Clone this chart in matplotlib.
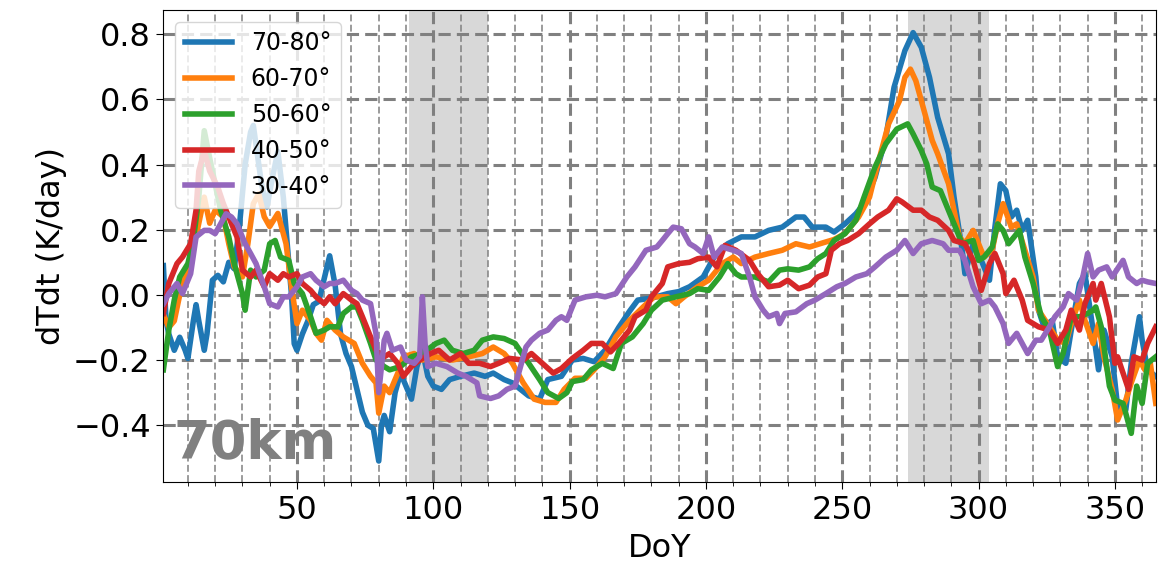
import numpy as np
import matplotlib
matplotlib.use("Agg")
import matplotlib.pyplot as plt
from matplotlib.ticker import MultipleLocator

# DoY / dTdt (K/day) at 70 km
doy_7080 = [1, 2, 3, 5, 7, 9, 10, 12, 13, 14, 16, 17, 19, 21, 23, 25, 27, 29, 31, 33, 34, 35, 37, 39, 41, 43,
            45, 47, 48, 49, 50, 52, 54, 56, 58, 60, 62, 64, 66, 68, 70, 72, 74, 76, 78, 80, 81, 82, 84, 86, 88,
            90, 92, 94, 96, 98, 100, 103, 106, 110, 115, 119, 122, 126, 129, 132, 135, 139, 142, 147, 151, 155,
            159, 163, 168, 172, 175, 180, 186, 190, 194, 199, 203, 208, 213, 218, 223, 228, 233, 236, 239, 244,
            247, 251, 255, 258, 262, 266, 269, 273, 276, 279, 282, 285, 289, 291, 294, 295, 298, 301, 304, 306,
            308, 310, 312, 314, 316, 318, 321, 322, 324, 327, 329, 332, 334, 337, 339, 342, 344, 346, 349, 351,
            354, 356, 359, 360, 362, 365]
val_7080 = [0.09, -0.08, -0.12, -0.17, -0.13, -0.17, -0.195, -0.08, -0.03, -0.08, -0.17, -0.12, 0.045, 0.06,
            0.04, 0.10, 0.08, 0.22, 0.40, 0.50, 0.52, 0.46, 0.34, 0.27, 0.36, 0.44, 0.30, 0.10, 0.0, -0.15, -0.17,
            -0.12, -0.08, -0.03, -0.02, 0.05, 0.12, 0.03, -0.12, -0.18, -0.22, -0.29, -0.36, -0.40, -0.41, -0.51,
            -0.40, -0.37, -0.42, -0.30, -0.24, -0.28, -0.32, -0.22, -0.17, -0.25, -0.28, -0.29, -0.26, -0.25,
            -0.24, -0.25, -0.24, -0.26, -0.27, -0.29, -0.31, -0.32, -0.26, -0.25, -0.20, -0.195, -0.205, -0.17,
            -0.10, -0.05, -0.016, -0.01, 0.004, 0.01, 0.025, 0.055, 0.116, 0.157, 0.178, 0.178, 0.198, 0.208,
            0.239, 0.239, 0.208, 0.208, 0.193, 0.218, 0.249, 0.28, 0.36, 0.484, 0.637, 0.75, 0.805, 0.76, 0.668,
            0.545, 0.433, 0.30, 0.137, 0.065, 0.157, 0.106, 0.045, 0.208, 0.341, 0.32, 0.239, 0.26, 0.198, 0.229,
            0.055, -0.047, -0.098, -0.078, -0.19, -0.21, -0.108, 0.035, 0.065, -0.108, -0.23, -0.108, -0.19,
            -0.343, -0.353, -0.21, -0.067, -0.139, -0.23, -0.25]

doy_6070 = [1, 3, 5, 7, 9, 11, 13, 15, 16, 18, 20, 23, 25, 27, 30, 32, 34, 36, 38, 40, 43, 46, 48, 50, 52, 55,
            57, 59, 61, 64, 67, 71, 74, 77, 79, 80, 82, 84, 87, 89, 93, 96, 101, 107, 113, 118, 122, 126, 129,
            133, 137, 141, 145, 148, 152, 156, 159, 163, 167, 172, 177, 181, 186, 189, 192, 197, 201, 206, 210,
            213, 218, 223, 228, 233, 238, 243, 247, 251, 256, 260, 263, 267, 271, 273, 275, 277, 280, 283, 285,
            289, 293, 295, 298, 300, 302, 305, 307, 309, 312, 314, 317, 320, 322, 326, 329, 332, 334, 337, 339,
            342, 344, 346, 349, 351, 354, 356, 359, 361, 363, 365]
val_6070 = [-0.06, -0.10, -0.08, 0.0, 0.06, 0.12, 0.18, 0.26, 0.30, 0.22, 0.26, 0.24, 0.157, 0.086, 0.055,
            0.157, 0.28, 0.31, 0.24, 0.21, 0.25, 0.157, 0.025, -0.088, -0.047, -0.078, -0.118, -0.139, -0.078,
            -0.108, -0.129, -0.149, -0.21, -0.25, -0.27, -0.363, -0.28, -0.30, -0.24, -0.19, -0.18, -0.20, -0.19,
            -0.20, -0.19, -0.18, -0.16, -0.18, -0.21, -0.27, -0.32, -0.33, -0.33, -0.29, -0.256, -0.256, -0.23,
            -0.19, -0.129, -0.078, -0.037, -0.006, -0.006, -0.027, -0.006, 0.025, 0.045, 0.096, 0.116, 0.096,
            0.116, 0.127, 0.137, 0.157, 0.147, 0.16, 0.17, 0.188, 0.239, 0.30, 0.40, 0.525, 0.596, 0.668, 0.693,
            0.657, 0.566, 0.474, 0.433, 0.341, 0.178, 0.157, 0.198, 0.157, 0.116, 0.137, 0.218, 0.28, 0.208,
            0.218, 0.137, 0.055, -0.047, -0.098, -0.139, -0.149, -0.088, -0.016, -0.078, -0.149, -0.088, -0.19,
            -0.29, -0.384, -0.323, -0.27, -0.20, -0.23, -0.21, -0.333]

doy_5060 = [1, 3, 5, 7, 10, 12, 14, 16, 18, 21, 22, 25, 27, 30, 31, 33, 35, 38, 40, 42, 44, 47, 49, 52, 55, 57,
            60, 62, 65, 67, 70, 72, 74, 77, 79, 82, 84, 88, 92, 96, 101, 104, 107, 111, 115, 118, 122, 126, 130,
            135, 139, 142, 146, 149, 151, 155, 158, 162, 166, 169, 173, 177, 180, 184, 189, 194, 197, 201, 205,
            208, 211, 213, 218, 223, 227, 230, 234, 238, 241, 244, 247, 251, 255, 258, 262, 266, 270, 274, 276,
            279, 281, 283, 286, 289, 292, 294, 298, 300, 302, 305, 307, 309, 311, 315, 317, 320, 323, 326, 329,
            331, 334, 337, 340, 342, 343, 345, 348, 350, 353, 356, 358, 360, 362, 365]
val_5060 = [-0.23, -0.108, -0.016, 0.055, 0.096, 0.167, 0.30, 0.504, 0.42, 0.30, 0.26, 0.178, 0.096, 0.004,
            -0.047, 0.076, 0.055, 0.076, 0.157, 0.167, 0.116, 0.106, 0.035, 0.004, -0.067, -0.118, -0.108,
            -0.098, -0.098, -0.057, -0.037, -0.037, -0.078, -0.149, -0.20, -0.22, -0.23, -0.22, -0.19, -0.18,
            -0.149, -0.139, -0.17, -0.18, -0.17, -0.139, -0.129, -0.134, -0.149, -0.21, -0.26, -0.30, -0.318,
            -0.30, -0.266, -0.26, -0.23, -0.21, -0.226, -0.149, -0.129, -0.088, -0.047, -0.016, -0.006, 0.004,
            0.019, 0.014, 0.055, 0.096, 0.065, 0.055, 0.055, 0.04, 0.076, 0.08, 0.076, 0.086, 0.111, 0.127,
            0.167, 0.188, 0.229, 0.30, 0.392, 0.464, 0.509, 0.525, 0.494, 0.443, 0.402, 0.331, 0.32, 0.259,
            0.198, 0.157, 0.167, 0.106, 0.116, 0.147, 0.218, 0.198, 0.157, 0.198, 0.116, 0.035, -0.067, -0.108,
            -0.22, -0.18, -0.067, -0.067, -0.057, -0.047, -0.037, -0.098, -0.28, -0.323, -0.333, -0.425, -0.28,
            -0.333, -0.21, -0.19]

doy_4050 = [1, 3, 6, 8, 11, 13, 14, 16, 18, 21, 23, 25, 28, 30, 33, 35, 38, 40, 43, 45, 47, 50, 52, 55, 57,
            60, 62, 64, 67, 70, 72, 74, 77, 79, 82, 84, 87, 89, 92, 95, 99, 102, 106, 110, 113, 117, 121, 124,
            128, 133, 136, 140, 144, 147, 151, 155, 158, 162, 165, 168, 172, 174, 178, 180, 184, 186, 190, 194,
            197, 201, 204, 207, 211, 216, 219, 223, 227, 230, 234, 238, 241, 244, 246, 249, 252, 256, 260, 263,
            267, 270, 272, 276, 279, 282, 285, 289, 291, 295, 298, 301, 304, 306, 309, 310, 313, 316, 318, 322,
            326, 329, 332, 334, 337, 339, 342, 343, 345, 348, 350, 351, 353, 355, 357, 360, 362, 365]
val_4050 = [-0.057, 0.035, 0.096, 0.116, 0.157, 0.26, 0.38, 0.443, 0.38, 0.33, 0.28, 0.239, 0.178, 0.076,
            0.055, 0.076, 0.025, 0.065, 0.045, 0.065, 0.055, 0.065, 0.035, 0.014, -0.006, -0.027, -0.006, -0.027,
            0.004, -0.016, -0.027, -0.067, -0.129, -0.17, -0.19, -0.18, -0.21, -0.25, -0.22, -0.20, -0.18, -0.17,
            -0.20, -0.18, -0.21, -0.21, -0.22, -0.21, -0.195, -0.20, -0.18, -0.21, -0.24, -0.226, -0.195, -0.17,
            -0.149, -0.149, -0.175, -0.149, -0.108, -0.067, -0.047, -0.006, 0.035, 0.086, 0.096, 0.10, 0.111,
            0.116, 0.086, 0.152, 0.137, 0.106, 0.065, 0.025, 0.03, 0.045, 0.019, 0.03, 0.055, 0.065, 0.137,
            0.157, 0.167, 0.188, 0.218, 0.239, 0.26, 0.295, 0.285, 0.26, 0.26, 0.239, 0.229, 0.198, 0.167,
            0.157, 0.106, 0.014, 0.096, 0.127, 0.065, 0.004, 0.045, -0.016, -0.078, -0.098, -0.108, -0.149,
            -0.108, -0.047, -0.108, -0.027, 0.035, -0.016, 0.035, -0.067, -0.21, -0.19, -0.24, -0.29, -0.19,
            -0.20, -0.149, -0.098]

doy_3040 = [1, 3, 6, 8, 11, 13, 16, 18, 20, 22, 24, 26, 28, 31, 33, 35, 38, 40, 43, 45, 47, 50, 52, 55, 57,
            60, 62, 64, 67, 70, 72, 74, 77, 79, 80, 82, 83, 85, 88, 90, 93, 95, 96, 97, 98, 101, 105, 109, 112,
            116, 117, 121, 124, 127, 130, 132, 134, 136, 139, 142, 145, 147, 149, 152, 156, 160, 163, 167, 171,
            174, 178, 182, 184, 186, 188, 191, 194, 196, 199, 201, 203, 206, 210, 213, 216, 218, 221, 223, 226,
            227, 229, 233, 237, 240, 244, 248, 251, 255, 259, 262, 266, 270, 273, 276, 279, 283, 287, 289, 293,
            295, 298, 301, 304, 306, 309, 311, 314, 316, 318, 321, 323, 326, 328, 331, 333, 336, 338, 340, 342,
            344, 347, 349, 353, 355, 358, 360, 362, 365]
val_3040 = [-0.027, 0.004, 0.035, 0.004, 0.065, 0.178, 0.198, 0.198, 0.188, 0.218, 0.249, 0.239, 0.218, 0.157,
            0.127, 0.096, 0.025, -0.027, -0.037, -0.006, -0.006, 0.025, 0.055, 0.065, 0.045, 0.025, 0.035, 0.035,
            0.045, 0.014, 0.004, -0.016, -0.027, -0.12, -0.30, -0.14, -0.118, -0.17, -0.16, -0.20, -0.21, -0.19,
            -0.006, -0.15, -0.22, -0.21, -0.22, -0.24, -0.25, -0.27, -0.31, -0.318, -0.31, -0.29, -0.28, -0.22,
            -0.16, -0.139, -0.118, -0.108, -0.078, -0.067, -0.078, -0.016, -0.006, -0.001, -0.006, 0.004, 0.055,
            0.086, 0.137, 0.147, 0.167, 0.188, 0.208, 0.203, 0.157, 0.147, 0.127, 0.178, 0.116, 0.147, 0.137,
            0.127, 0.055, -0.006, -0.047, -0.067, -0.057, -0.088, -0.057, -0.052, -0.027, -0.016, 0.004, 0.025,
            0.035, 0.055, 0.065, 0.086, 0.116, 0.137, 0.167, 0.127, 0.157, 0.167, 0.157, 0.137, 0.137, 0.106,
            0.025, -0.027, -0.016, -0.037, -0.088, -0.149, -0.118, -0.149, -0.18, -0.139, -0.139, -0.098,
            -0.067, -0.037, 0.004, -0.016, 0.045, 0.127, 0.055, 0.076, 0.086, 0.055, 0.106, 0.055, 0.035, 0.045,
            0.04, 0.035]

labels = ["70-80°", "60-70°", "50-60°", "40-50°", "30-40°"]
colors = ["#1f77b4", "#ff7f0e", "#2ca02c", "#d62728", "#9467bd"]
spans = [(91, 120), (274, 304)]

series = [(doy_7080, val_7080), (doy_6070, val_6070), (doy_5060, val_5060),
          (doy_4050, val_4050), (doy_3040, val_3040)]

fig, ax = plt.subplots(figsize=(11.71, 5.64), dpi=100)
fig.subplots_adjust(left=0.1395, right=0.987, bottom=0.145, top=0.982)

for a, b in spans:
    ax.axvspan(a, b, color="gray", alpha=0.3, lw=0)
for (x, y), lab, c in zip(series, labels, colors):
    ax.plot(x, y, color=c, lw=4, label=lab)

ax.set_xlim(1, 365)
ax.set_ylim(-0.575, 0.874)
ax.xaxis.set_major_locator(MultipleLocator(50))
ax.xaxis.set_minor_locator(MultipleLocator(10))
ax.yaxis.set_major_locator(MultipleLocator(0.2))
ax.grid(which="major", color="gray", lw=2.2, ls=(0, (4, 2)))
ax.grid(which="minor", axis="x", color="gray", lw=1.1, ls=(0, (4.5, 2.2)))
ax.tick_params(which="major", labelsize=23, length=5, pad=4)
ax.tick_params(which="minor", length=3)
ax.set_xlabel("DoY", fontsize=23, labelpad=5)
ax.set_ylabel("dTdt (K/day)", fontsize=23)
ax.text(0.01, 0.05, "70km", transform=ax.transAxes, fontsize=38,
        fontweight="bold", color="gray")
ax.legend(loc="upper left", fontsize=17)

fig.savefig("out.png", dpi=100)
plt.close()
